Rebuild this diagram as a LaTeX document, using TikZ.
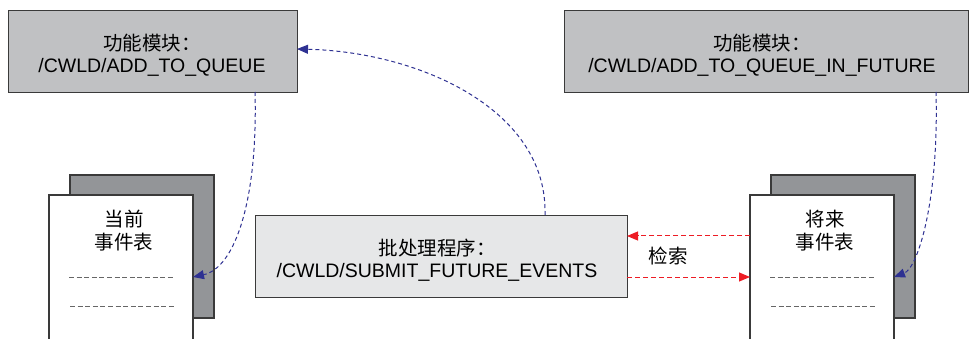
\documentclass[tikz,border=0pt]{standalone}
\usepackage{fontspec}
\setmainfont{Liberation Sans}
\newfontfamily\cjk{Noto Sans CJK SC}
\usetikzlibrary{arrows.meta}
\definecolor{boxgray}{HTML}{C0C1C3}
\definecolor{lightgray}{HTML}{E6E7E8}
\definecolor{backgray}{HTML}{939598}
\definecolor{edge}{HTML}{3A3A3A}
\definecolor{myblue}{HTML}{2E3192}
\definecolor{myred}{HTML}{ED1C24}
\tikzset{
  modbox/.style={draw=edge, line width=1.2pt, fill=boxgray, inner sep=0pt, anchor=north west},
  docfront/.style={draw=edge, line width=1.2pt, fill=white},
  docback/.style={draw=edge, line width=1.2pt, fill=backgray},
  lbl/.style={align=center, font=\fontsize{19.5}{22}\selectfont},
  cjklbl/.style={align=center, font=\fontsize{19.5}{23}\selectfont\cjk},
  rowline/.style={draw=gray!80!black, line width=1pt, dash pattern=on 5pt off 2.6pt},
  bluearrow/.style={draw=myblue, line width=1pt, dash pattern=on 4pt off 3pt, -{Triangle[length=11pt,width=9pt]}},
  redarrow/.style={draw=myred, line width=1pt, dash pattern=on 5pt off 3pt, -{Triangle[length=11pt,width=9pt]}}
}
\begin{document}
\begin{tikzpicture}[x=1pt,y=-1pt]
\useasboundingbox (0,0) rectangle (969,339);
% top boxes
\node[modbox, minimum width=289pt, minimum height=82pt] (mq) at (8,10) {};
\node[lbl] (mqt) at (152,55) {{\cjk 功能模块：}\\/CWLD/ADD\_TO\_QUEUE};
\node[modbox, minimum width=404pt, minimum height=82pt] (mf) at (564,10) {};
\node[lbl] (mft) at (762,55) {{\cjk 功能模块：}\\/CWLD/ADD\_TO\_QUEUE\_IN\_FUTURE};
% middle box
\node[modbox, fill=lightgray, minimum width=372pt, minimum height=82pt] (sb) at (255,215) {};
\node[lbl] (sbt) at (437,260) {{\cjk 批处理程序：}\\/CWLD/SUBMIT\_FUTURE\_EVENTS};
% left document
\path[docback] (70,175) rectangle (214,318);
\path[docfront] (49,341) -- (49,195) -- (193,195) -- (193,341);
\node[cjklbl] (cur) at (124,231) {当前\\事件表};
\coordinate (cl1a) at (69,277); \coordinate (cl1b) at (173,277);
\coordinate (cl2a) at (70,306); \coordinate (cl2b) at (174,306);
\draw[rowline] (cl1a) -- (cl1b);
\draw[rowline] (cl2a) -- (cl2b);
\coordinate (curin) at (193,277);
% right document
\path[docback] (771,175) rectangle (915,318);
\path[docfront] (750,341) -- (750,195) -- (894,195) -- (894,341);
\node[cjklbl] (fut) at (825,231) {将来\\事件表};
\draw[rowline] (770,277) -- (874,277);
\draw[rowline] (771,306) -- (875,306);
\coordinate (futin) at (894,277);
\coordinate (futl1) at (750,236);
\coordinate (futl2) at (750,277);
% arrows
\coordinate (mqb) at (255,92);
\coordinate (mqr) at (297,49);
\coordinate (sbtop) at (545,215);
\coordinate (mfb) at (936,92);
\coordinate (sbr1) at (627,236);
\coordinate (sbr2) at (627,277);
\draw[bluearrow] (mqb) .. controls (258,200) and (235,268) .. (curin);
\draw[bluearrow] (sbtop) .. controls (548,110) and (420,52) .. (mqr);
\draw[bluearrow] (mfb) .. controls (939,200) and (918,268) .. (futin);
\draw[redarrow] (futl1) -- (sbr1);
\draw[redarrow] (sbr2) -- (futl2);
\node[cjklbl] (srch) at (668,256) {检索};
\end{tikzpicture}
\end{document}
